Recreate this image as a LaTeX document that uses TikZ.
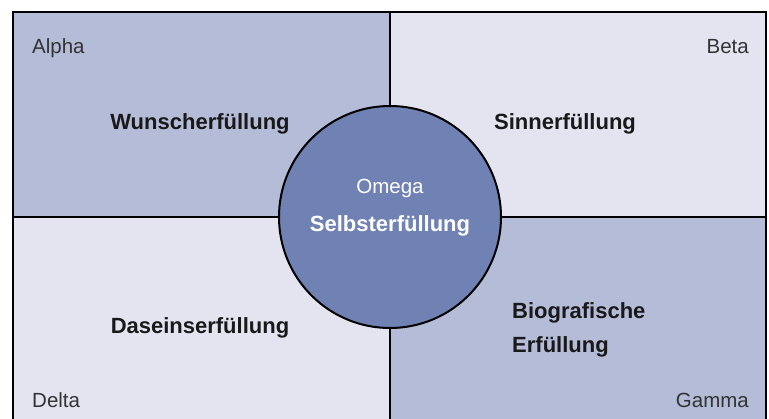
\documentclass[tikz,border=0pt]{standalone}
\usepackage{fontspec}
\setmainfont{Liberation Sans}
\usepackage{tikz}
\definecolor{quaddark}{HTML}{B4BCD8}
\definecolor{quadlight}{HTML}{E3E4F0}
\definecolor{omegablue}{HTML}{6F82B3}
\definecolor{labelgray}{HTML}{333333}
\tikzset{
  corner/.style={font=\fontsize{20.5bp}{24bp}\selectfont, text=labelgray, inner sep=0pt},
  field/.style={font=\fontsize{22bp}{34bp}\selectfont\bfseries, text=black!90, inner sep=0pt}
}

\begin{document}
\begin{tikzpicture}[x=1bp,y=-1bp]
		%%%%% START %%%%%
		\useasboundingbox (0, 0) rectangle (769, 418);
		\fill[white] (0, 0) rectangle (769, 418);
		
		\clip (0, 0) rectangle (769, 418);
		
		\fill[quaddark] (13, 12) rectangle (390, 217);
		\fill[quadlight] (390, 12) rectangle (766, 217);
		\fill[quadlight] (13, 217) rectangle (390, 425);
		\fill[quaddark] (390, 217) rectangle (766, 425);
		
		\draw[line width=2bp] (13, 12) rectangle (766, 425);
		\draw[line width=1.6bp] (390, 12) -- (390, 425);
		\draw[line width=1.6bp] (13, 217) -- (766, 217);
		
		\draw[line width=2bp, fill=omegablue] (390, 217) circle (111);
		
		\node[corner, anchor=base west] (alpha) at (32, 53) {Alpha};
		\node[corner, anchor=base east] (beta) at (749, 53) {Beta};
		\node[corner, anchor=base west] (delta) at (32, 407) {Delta};
		\node[corner, anchor=base east] (gamma) at (749, 407) {Gamma};
		
		\node[field] (wunsch) at (200, 124) {Wunscherfüllung};
		\node[field] (sinn) at (565, 124) {Sinnerfüllung};
		\node[field] (dasein) at (200, 328) {Daseinserfüllung};
		\node[field, anchor=west, align=left] (bio) at (512, 330) {Biografische\\Erfüllung};
		
		\node[corner, text=white] (omega) at (390, 188) {Omega};
		\node[field, text=white] (selbst) at (390, 226) {Selbsterfüllung};
		
		%%%%% END %%%%%
	\end{tikzpicture}
\end{document}
